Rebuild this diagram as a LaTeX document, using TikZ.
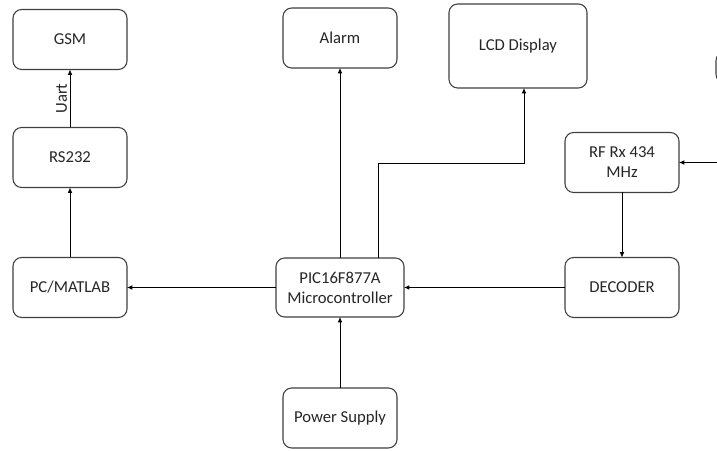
\documentclass[tikz,border=0pt]{standalone}
\usepackage{fontspec}
\setmainfont{Carlito}
\usetikzlibrary{arrows.meta,positioning}
\definecolor{blkline}{HTML}{404040}
\definecolor{blktext}{HTML}{262626}
\begin{document}
\begin{tikzpicture}[every node/.style={font=\fontsize{12.5}{15}\selectfont,align=center,text=blktext}]
\tikzset{blk/.style={draw=blkline,line width=0.8pt,rounded corners=6.5pt,fill=white,minimum width=85.5pt,minimum height=45pt,inner sep=2pt,outer sep=0pt}, arr/.style={-{Latex[length=4pt,width=3.5pt]},line width=0.6pt,black}}
\useasboundingbox (0,0) rectangle (537.75pt,337.5pt);
\node[blk,minimum width=96pt,minimum height=44.25pt] (micro) at (255pt,121.875pt) {PIC16F877A\\Microcontroller};
\node[blk,left=111.75pt of micro] (pc) {PC/MATLAB};
\node[blk,above=52.5pt of pc] (rs) {RS232};
\node[blk,above=43.5pt of rs] (gsm) {GSM};
\node[blk,above=142.5pt of micro] (alarm) {Alarm};
\node[blk,right=39pt of alarm.north east,anchor=north west,yshift=3pt,minimum width=103.5pt,minimum height=63pt] (lcd) {LCD Display};
\node[blk,below=53.25pt of micro] (pwr) {Power Supply};
\node[blk,right=120.75pt of micro] (dec) {DECODER};
\node[blk,above=48.75pt of dec] (rf) {RF Rx 434\\MHz};
\node[blk,anchor=north west,minimum width=60pt,minimum height=23.25pt] (side) at (537pt,298.5pt) {};
\coordinate[right=30pt of rf.east] (rfin);
\draw[arr] (rs) -- node[midway,above,sloped,inner sep=2pt] {Uart} (gsm);
\draw[arr] (pc) -- (rs);
\draw[arr] (micro) -- (pc);
\draw[arr] (micro) -- (alarm);
\draw[arr] ([xshift=28.5pt]micro.north) -- ++(0,71.25pt) -| ([xshift=4.5pt]lcd.south);
\draw[arr] (pwr) -- (micro);
\draw[arr] (dec) -- (micro);
\draw[arr] (rf) -- (dec);
\draw[arr] (rfin) -- (rf);
\end{tikzpicture}
\end{document}
